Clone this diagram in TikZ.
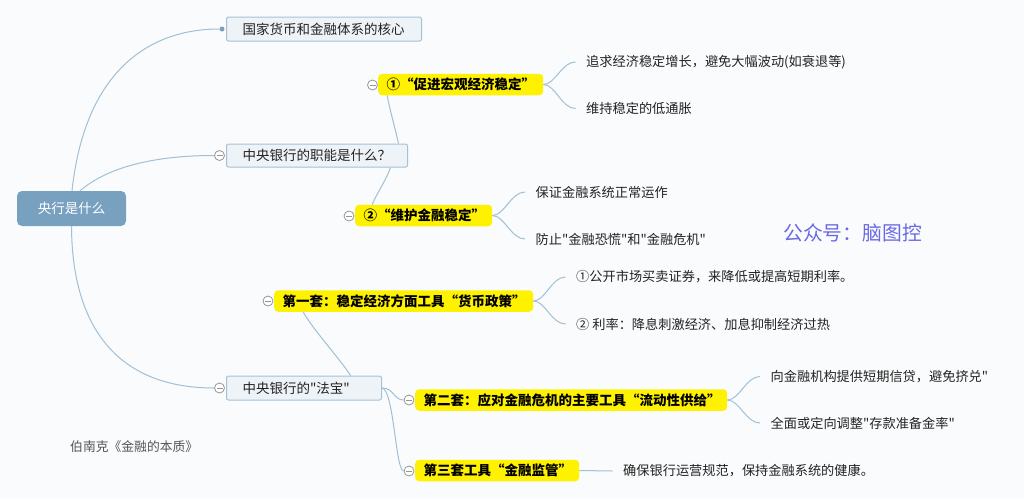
\documentclass[tikz,border=0pt]{standalone}
\usepackage{fontspec}
\setmainfont{Noto Sans CJK SC}[Ligatures=TeXOff]
\definecolor{bgc}{RGB}{250,251,252}
\definecolor{rootc}{RGB}{120,161,192}
\definecolor{topicfill}{RGB}{238,243,248}
\definecolor{topicdraw}{RGB}{165,193,215}
\definecolor{connc}{RGB}{160,192,214}
\definecolor{dotc}{RGB}{120,160,192}
\definecolor{foldc}{RGB}{150,150,150}
\definecolor{textc}{RGB}{35,35,35}
\definecolor{wmc}{RGB}{105,105,228}
\definecolor{notec}{RGB}{85,85,85}
\tikzset{
  basefont/.style={font=\fontsize{13.5}{16}\selectfont},
  rootbox/.style={fill=rootc, rounded corners=5pt, text=white, minimum width=109pt,
    minimum height=35pt, inner sep=0pt, basefont},
  topic/.style={fill=topicfill, draw=topicdraw, line width=1pt, rounded corners=2pt,
    minimum height=24pt, inner ysep=0pt, inner xsep=16pt, align=left, anchor=west,
    text=textc, basefont},
  ybox/.style={fill=yellow, rounded corners=4pt, minimum height=21.5pt, inner ysep=0pt,
    inner xsep=8.5pt, align=left, anchor=west, text=black,
    font=\fontsize{13.5}{16}\selectfont\bfseries},
  leaf/.style={anchor=west, inner xsep=10.5pt, inner ysep=0pt, text=textc,
    font=\fontsize{13.2}{16}\selectfont},
  conn/.style={draw=connc, line width=1pt},
  foldmark/.style={circle, draw=foldc, fill=white, minimum size=10pt, inner sep=0pt,
    line width=0.8pt,
    path picture={\draw[foldc, line width=0.8pt]
      ([xshift=-3pt]path picture bounding box.center) --
      ([xshift=3pt]path picture bounding box.center);}},
}
\begin{document}
\begin{tikzpicture}[x=1pt,y=-1pt]
\fill[bgc] (0,0) rectangle (1024,499);
\useasboundingbox (0,0) rectangle (1024,499);

% main nodes
\node[rootbox] (root) at (71.5,208.5) {央行是什么};
\node[topic, text width=163pt] (n1) at (226,29) {国家货币和金融体系的核心};
\node[topic, text width=149pt, minimum height=23pt] (n2) at (226,155.5) {中央银行的职能是什么？};
\node[topic, text width=123pt] (n3) at (226,388) {中央银行的"法宝"};

\node[circle, fill=dotc, minimum size=5pt, inner sep=0pt] (d1) at (222,29) {};
\node[foldmark] (c2) at (219.5,155.5) {};
\node[foldmark] (c3) at (219.5,388) {};

% yellow nodes
\node[ybox, text width=148pt] (y1) at (378,84.5) {①“促进宏观经济稳定”};
\node[ybox, text width=120pt] (y2) at (355,215.5) {②“维护金融稳定”};
\node[ybox, text width=242pt] (f1) at (274,301) {第一套：稳定经济方面工具“货币政策”};
\node[ybox, text width=295pt] (f2) at (415,400) {第二套：应对金融危机的主要工具“流动性供给”};
\node[ybox, text width=147pt] (f3) at (415,470.5) {第三套工具“金融监管”};

\node[foldmark] (cy1) at (372.5,85) {};
\node[foldmark] (cy2) at (349,216) {};
\node[foldmark] (cf1) at (268,301) {};
\node[foldmark] (cf2) at (409,400) {};
\node[foldmark] (cf3) at (409,471) {};

% leaves
\node[leaf] (l1a) at (575.5,62) {追求经济稳定增长，避免大幅波动(如衰退等)};
\node[leaf] (l1b) at (575.5,108.5) {维持稳定的低通胀};
\node[leaf] (l2a) at (525,192) {保证金融系统正常运作};
\node[leaf] (l2b) at (525,239) {防止"金融恐慌"和"金融危机"};
\node[leaf] (l3a) at (565.5,277) {①公开市场买卖证券，来降低或提高短期利率。};
\node[leaf] (l3b) at (565.5,324) {② 利率：降息刺激经济、加息抑制经济过热};
\node[leaf] (l4a) at (760,376.5) {向金融机构提供短期信贷，避免挤兑"};
\node[leaf] (l4b) at (760,423) {全面或定向调整"存款准备金率"};
\node[leaf] (l5) at (612.5,471) {确保银行运营规范，保持金融系统的健康。};

% other texts
\node[anchor=west, inner sep=0pt, text=wmc, font=\fontsize{19.8}{22}\selectfont] (wm) at (783,233) {公众号：脑图控};
\node[anchor=west, inner sep=0pt, text=notec, font=\fontsize{12.8}{15}\selectfont] (note) at (70,447) {伯南克《金融的本质》};

% connectors from root
\draw[conn] ([xshift=0.5pt]root.north) .. controls (85,70) and (150,29) .. (d1.west);
\draw[conn] ([xshift=8.5pt]root.north) .. controls (110,165) and (160,155.5) .. (c2.west);
\draw[conn] (root.south) .. controls (72,330) and (120,388) .. (c3.west);

% connectors level 2
\draw[conn] ([xshift=81.5pt]n2.north) .. controls +(-4,-18) and +(2,12) .. ([xshift=-73.5pt]y1.south);
\draw[conn] ([xshift=73.5pt]n2.south) .. controls +(-4,12) and +(5,-12) .. ([xshift=-51.5pt]y2.north);
\draw[conn] ([xshift=46.5pt]n3.north) .. controls +(-10,-16) and +(10,18) .. ([xshift=-100.5pt]f1.south);
\draw[conn] (n3.east) .. controls +(12,0) and +(-10,0) .. (cf2.west);
\draw[conn] (n3.east) .. controls +(12,2) and +(-8,0) .. (cf3.west);

% leaf braces
\draw[conn] (y1.east) .. controls +(12,0) and +(-14,0) .. (l1a.west);
\draw[conn] (y1.east) .. controls +(12,0) and +(-14,0) .. (l1b.west);
\draw[conn] (y2.east) .. controls +(12,0) and +(-14,0) .. (l2a.west);
\draw[conn] (y2.east) .. controls +(12,0) and +(-14,0) .. (l2b.west);
\draw[conn] (f1.east) .. controls +(12,0) and +(-14,0) .. (l3a.west);
\draw[conn] (f1.east) .. controls +(12,0) and +(-14,0) .. (l3b.west);
\draw[conn] (f2.east) .. controls +(12,0) and +(-14,0) .. (l4a.west);
\draw[conn] (f2.east) .. controls +(12,0) and +(-14,0) .. (l4b.west);
\draw[conn] (f3.east) -- (l5.west);
\end{tikzpicture}
\end{document}
